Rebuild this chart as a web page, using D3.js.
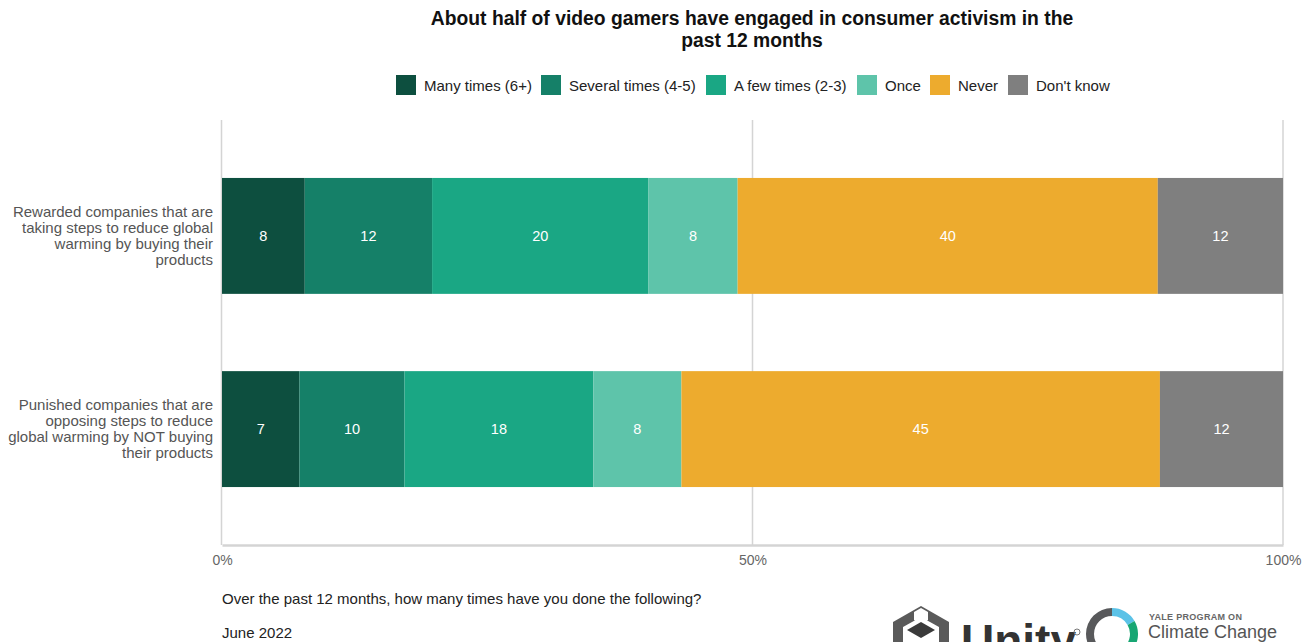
<!DOCTYPE html>
<html><head><meta charset="utf-8">
<script src="https://cdn.jsdelivr.net/npm/d3@7"></script>
<style>
body{margin:0;background:#fff;}
svg{display:block;font-family:"Liberation Sans",Arial,sans-serif;}
</style></head>
<body><svg id="c" width="1310" height="642"></svg>
<script>
const categories = [
  ["Rewarded companies that are","taking steps to reduce global","warming by buying their","products"],
  ["Punished companies that are","opposing steps to reduce","global warming by NOT buying","their products"]
];
const seriesNames = ["Many times (6+)","Several times (4-5)","A few times (2-3)","Once","Never","Don't know"];
const colors = ["#0d4f3f","#158068","#1aa784","#5ec4aa","#edab2e","#7f7f7f"];
// estimated underlying values (labels show rounded)
const rewarded = [7.8, 12.0, 20.4, 8.4, 39.6, 11.8];
const punished = [7.3, 9.9, 17.8, 8.3, 45.1, 11.6];
const rewardedLabels = [8, 12, 20, 8, 40, 12];
const punishedLabels = [7, 10, 18, 8, 45, 12];
const xTicks = [0, 50, 100];
const xTickLabels = ["0%","50%","100%"];

const svg = d3.select("#c");
const x = d3.scaleLinear().domain([0,100]).range([222,1283]);
const y = d3.scaleBand().domain([0,1]).range([120,545]).paddingInner(0.4).paddingOuter(0.3);

// title (condensed bold)
const tg = svg.append("g").attr("transform","translate(752,0) scale(0.92,1)");
tg.append("text").attr("x",0).attr("y",25).attr("text-anchor","middle")
  .attr("font-weight","bold").attr("font-size",21).attr("fill","#111").text("About half of video gamers have engaged in consumer activism in the");
tg.append("text").attr("x",0).attr("y",47).attr("text-anchor","middle")
  .attr("font-weight","bold").attr("font-size",21).attr("fill","#111").text("past 12 months");

// legend
const legX = [396,541,706,857,930,1008];
const leg = svg.append("g");
seriesNames.forEach((s,i)=>{
  leg.append("rect").attr("x",legX[i]).attr("y",75).attr("width",20).attr("height",20).attr("fill",colors[i]);
  leg.append("text").attr("x",legX[i]+28).attr("y",91).attr("font-size",15).attr("fill","#222").text(s);
});

// gridlines
svg.append("g").selectAll("line").data([50,100]).join("line")
  .attr("x1",d=>x(d)).attr("x2",d=>x(d)).attr("y1",120).attr("y2",545)
  .attr("stroke","#d4d4d4").attr("stroke-width",1.5);
// left axis line
svg.append("line").attr("x1",221.5).attr("x2",221.5).attr("y1",120).attr("y2",545).attr("stroke","#d4d4d4").attr("stroke-width",1.5);

// bars
const data = [
  {vals:rewarded, labels:rewardedLabels},
  {vals:punished, labels:punishedLabels}
];
data.forEach((row,ri)=>{
  let cum = 0;
  const segs = row.vals.map((v,i)=>{const s={x0:cum,x1:cum+v,i,label:row.labels[i]}; cum+=v; return s;});
  const g = svg.append("g");
  g.selectAll("rect").data(segs).join("rect")
    .attr("x",d=>x(d.x0)).attr("width",d=>x(d.x1)-x(d.x0))
    .attr("y",y(ri)).attr("height",y.bandwidth()).attr("fill",d=>colors[d.i]);
  g.selectAll("text").data(segs).join("text")
    .attr("x",d=>(x(d.x0)+x(d.x1))/2).attr("y",y(ri)+y.bandwidth()/2+5)
    .attr("text-anchor","middle").attr("font-size",14.5).attr("fill","#fff").text(d=>d.label);
  // category label
  const lines = categories[ri];
  const cy = y(ri)+y.bandwidth()/2;
  lines.forEach((l,li)=>{
    svg.append("text").attr("x",213).attr("y",cy + (li-(lines.length-1)/2)*16 + 5)
      .attr("text-anchor","end").attr("font-size",15).attr("fill","#555").text(l);
  });
});

// bottom axis
const xAxis = d3.axisBottom(x).tickValues(xTicks).tickFormat((d,i)=>xTickLabels[i]).tickSize(0).tickPadding(10);
const ax = svg.append("g").attr("transform","translate(0,545)").call(xAxis);
ax.select(".domain").attr("stroke","#d4d4d4").attr("stroke-width",2.5);
ax.selectAll("text").attr("font-size",14).attr("fill","#666").attr("font-family","Liberation Sans, sans-serif");

// footer
svg.append("text").attr("x",222).attr("y",604).attr("font-size",15).attr("fill","#222").text("Over the past 12 months, how many times have you done the following?");
svg.append("text").attr("x",222).attr("y",638).attr("font-size",15).attr("fill","#222").text("June 2022");

// Unity logo (approx)
const lg = svg.append("g");
lg.append("path").attr("d","M893,622 L921,606 L949,622 L949,660 L893,660 Z").attr("fill","#5a5a5a");
lg.append("path").attr("d","M914,612 L921,608 L928,612 L928,620 L921,624 L914,620 Z").attr("fill","#fff");
lg.append("path").attr("d","M903,627 L921,617 L939,627 L939,650 L903,650 Z").attr("fill","#fff");
lg.append("path").attr("d","M907,630 L921,622 L935,630 L921,638 Z").attr("fill","#3a3a3a");
lg.append("text").attr("x",961).attr("y",657).attr("font-size",46).attr("font-weight","bold").attr("fill","#333").text("Unity");
lg.append("circle").attr("cx",1077).attr("cy",632).attr("r",3).attr("fill","none").attr("stroke","#777").attr("stroke-width",1);
// Yale ring
const arc = d3.arc().innerRadius(18).outerRadius(26);
const ringSegs = [
  {s:-Math.PI, e:0, c:"#58595b"},
  {s:0, e:Math.PI/3, c:"#5bc2e7"},
  {s:Math.PI/3, e:Math.PI*0.75, c:"#17a673"},
  {s:Math.PI*0.75, e:Math.PI, c:"#f2b51b"}
];
const ring = svg.append("g").attr("transform","translate(1112,634)");
ringSegs.forEach(r=>ring.append("path").attr("d",arc({startAngle:r.s,endAngle:r.e})).attr("fill",r.c));
svg.append("text").attr("x",1149).attr("y",620).attr("font-size",9).attr("font-weight","bold").attr("fill","#666").attr("letter-spacing",0.3).text("YALE PROGRAM ON");
svg.append("text").attr("x",1148).attr("y",638).attr("font-size",18).attr("fill","#555").text("Climate Change");
</script></body></html>
